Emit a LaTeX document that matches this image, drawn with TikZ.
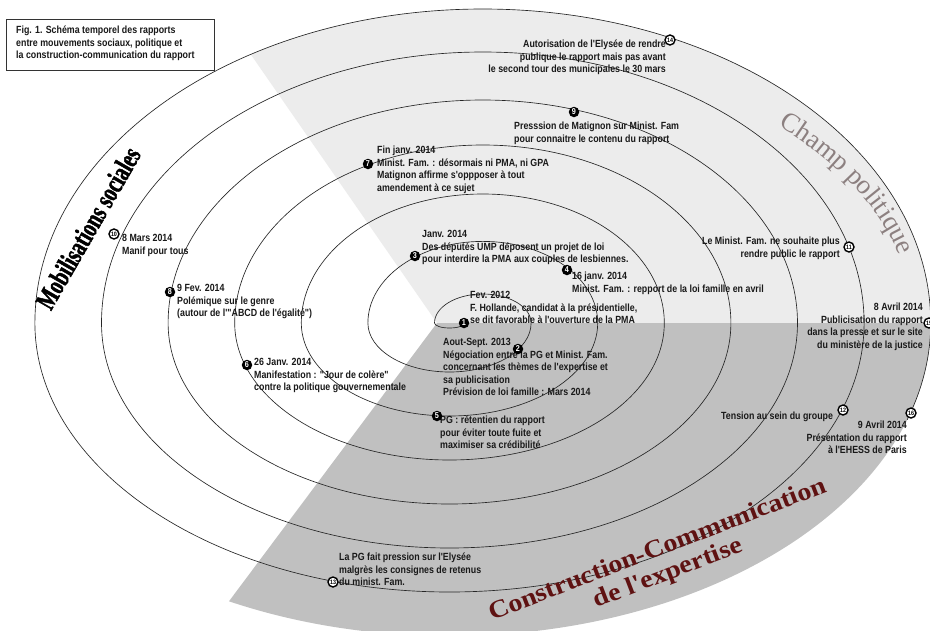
\documentclass[tikz,border=0pt]{standalone}
\usepackage{fontspec}
\usetikzlibrary{decorations.text}
\setmainfont{Liberation Sans}
\newfontfamily\lab{Liberation Sans}[FakeStretch=0.85]
\newfontfamily\titserif{Liberation Serif}
\newfontfamily\mobfont{Liberation Serif}[FakeStretch=0.7,FakeBold=1.6]
\newfontfamily\confont{Liberation Serif}[FakeStretch=1.12]
\definecolor{lightg}{RGB}{236,236,236}
\definecolor{darkg}{RGB}{192,192,192}
\definecolor{champ}{RGB}{140,128,128}
\definecolor{constr}{RGB}{95,18,18}
\newcommand{\Lblock}[1]{\vtop{\halign{##\hfil\cr #1\crcr}}}
\newcommand{\Rblock}[1]{\vtop{\halign{\hfil##\cr #1\crcr}}}
\begin{document}
\begin{tikzpicture}[x=1pt,y=-1pt,
  ring/.style={draw=black!85, line width=0.65pt},
  lbl/.style={font=\lab\bfseries\fontsize{10.4}{12.6}\selectfont, text=black!90, inner sep=0pt},
  lw/.style={lbl, anchor=base west},
  le/.style={lbl, anchor=base east},
  mk/.style={circle, fill=black, text=white, inner sep=0pt, minimum size=10.5pt, font=\lab\bfseries\fontsize{8.5}{8.5}\selectfont},
  mko/.style={circle, draw=black, line width=1.4pt, fill=white, text=black, inner sep=0pt, minimum size=10pt, font=\lab\bfseries\fontsize{6.3}{6.3}\selectfont},
  bot/.style={start angle=0, end angle=180},
  top/.style={start angle=180, end angle=360}]
\useasboundingbox (0,0) rectangle (930,630);
\clip (0,0) rectangle (930,630);
\fill[white] (0,0) rectangle (930,630);
% grey sectors of the background ellipse
\begin{scope}
\clip (34.9,323) arc [top, x radius=447.9, y radius=314] arc [bot, x radius=481.2, y radius=313] -- cycle;
\fill[lightg] (437,323) -- (116,-140) -- (1000,-140) -- (1000,323) -- cycle;
\fill[darkg] (437,323) -- (1000,323) -- (1000,700) -- (138,723) -- cycle;
\end{scope}
% spiral (time line, from 1 to 16)
\draw[ring] (464.5,323)
  arc [bot, x radius=15, y radius=5]
  arc [top, x radius=48.3, y radius=29]
  arc [bot, x radius=81.6, y radius=49]
  arc [top, x radius=114.9, y radius=81.6]
  arc [bot, x radius=148.2, y radius=93]
  arc [top, x radius=181.5, y radius=129]
  arc [bot, x radius=214.8, y radius=137]
  arc [top, x radius=248.1, y radius=178]
  arc [bot, x radius=281.4, y radius=181]
  arc [top, x radius=314.7, y radius=223]
  arc [bot, x radius=348, y radius=225]
  arc [top, x radius=381.3, y radius=271]
  arc [bot, x radius=414.6, y radius=269]
  arc [top, x radius=447.9, y radius=314]
  arc [start angle=0, end angle=18, x radius=481.2, y radius=313];
% caption
\node[draw=black!80, line width=0.8pt, minimum width=208pt, minimum height=51pt, inner sep=0pt] (cap) at (110,44.5) {};
\node[lw] (captxt) at (16,33.5) {\Lblock{Fig. 1. Schéma temporel des rapports\cr entre mouvements sociaux, politique et\cr la construction-communication du rapport}};
% titles
\node[font=\mobfont\bfseries\fontsize{28}{28}\selectfont, rotate=60] (mob) at (88,228) {Mobilisations sociales};
\path[decorate, decoration={text along path, text align=center,
   text={|\titserif\fontsize{27}{27}\selectfont\color{champ}|Champ politique}}]
   (729.4,101.0) arc [start angle=-55, end angle=-3, x radius=430, y radius=271];
\node[font=\confont\bfseries\fontsize{25}{25}\selectfont, text=constr, rotate=21] (constr1) at (657,548) {Construction-Communication};
\node[font=\confont\bfseries\fontsize{25}{25}\selectfont, text=constr, rotate=21] (constr2) at (668,574) {de l'expertise};
% labels
\node[le] (t14) at (666,47.5) {\Rblock{Autorisation de l'Elysée de rendre\cr publique le rapport mais pas avant\cr le second tour des municipales le 30 mars}};
\node[lw] (t9) at (514,129.5) {\Lblock{Presssion de Matignon sur Minist. Fam\cr pour connaitre le contenu du rapport}};
\node[lw] (t7) at (377,153.5) {\Lblock{Fin janv. 2014\cr Minist. Fam. : désormais ni PMA, ni GPA\cr Matignon affirme s'oppposer à tout\cr amendement à ce sujet}};
\node[lw] (t3) at (422,237.5) {\Lblock{Janv. 2014\cr Des députés UMP déposent un projet de loi\cr pour interdire la PMA aux couples de lesbiennes.}};
\node[lw] (t10) at (122,241.5) {\Lblock{8 Mars 2014\cr Manif pour tous}};
\node[lw] (t8) at (177,291.5) {\Lblock{9 Fev. 2014\cr Polémique sur le genre\cr (autour de l'"ABCD de l'égalité")}};
\node[lw] (t4) at (572,279.5) {\Lblock{16 janv. 2014\cr Minist. Fam. : repport de la loi famille en avril}};
\node[lw] (t1) at (470,298.5) {\Lblock{Fev. 2012\cr F. Hollande, candidat à la présidentielle,\cr se dit favorable à l'ouverture de la PMA}};
\node[lw] (t2) at (443,345.5) {\Lblock{Aout-Sept. 2013\cr Négociation entre la PG et Minist. Fam.\cr concernant les thèmes de l'expertise et\cr sa publicisation\cr Prévision de loi famille : Mars 2014}};
\node[lw] (t6) at (254,365.5) {\Lblock{26 Janv. 2014\cr Manifestation : "Jour de colère"\cr contre la politique gouvernementale}};
\node[lw] (t5) at (440,423.5) {\Lblock{PG : rétentien du rapport\cr pour éviter toute fuite et\cr maximiser sa crédibilité}};
\node[le] (t11) at (840,244.5) {\Rblock{Le Minist. Fam. ne souhaite plus\cr rendre public le rapport}};
\node[le] (t15) at (923,310.5) {\Rblock{8 Avril 2014\cr Publicisation du rapport\cr dans la presse et sur le site\cr du ministère de la justice}};
\node[lw] (t12) at (721,419.5) {Tension au sein du groupe};
\node[le] (t16) at (907,428.5) {\Rblock{9 Avril 2014\cr Présentation du rapport\cr à l'EHESS de Paris}};
\node[lw] (t13) at (339,560.5) {\Lblock{La PG fait pression sur l'Elysée\cr malgrès les consignes de retenus\cr du minist. Fam.}};
% markers
\node[mk] (m1) at (464,323) {1};
\node[mk] (m2) at (518,349) {2};
\node[mk] (m3) at (415,256) {3};
\node[mk] (m4) at (567,270) {4};
\node[mk] (m5) at (437,416) {5};
\node[mk] (m6) at (247,365) {6};
\node[mk] (m7) at (368,164) {7};
\node[mk] (m8) at (170,292) {8};
\node[mk] (m9) at (574,112) {9};
\node[mko] (m10) at (114,234) {10};
\node[mko] (m11) at (849,247) {11};
\node[mko] (m12) at (843,410) {12};
\node[mko] (m13) at (333,582) {13};
\node[mko] (m14) at (670,40) {14};
\node[mko] (m15) at (929,323) {15};
\node[mko] (m16) at (911,413) {16};
\end{tikzpicture}
\end{document}
